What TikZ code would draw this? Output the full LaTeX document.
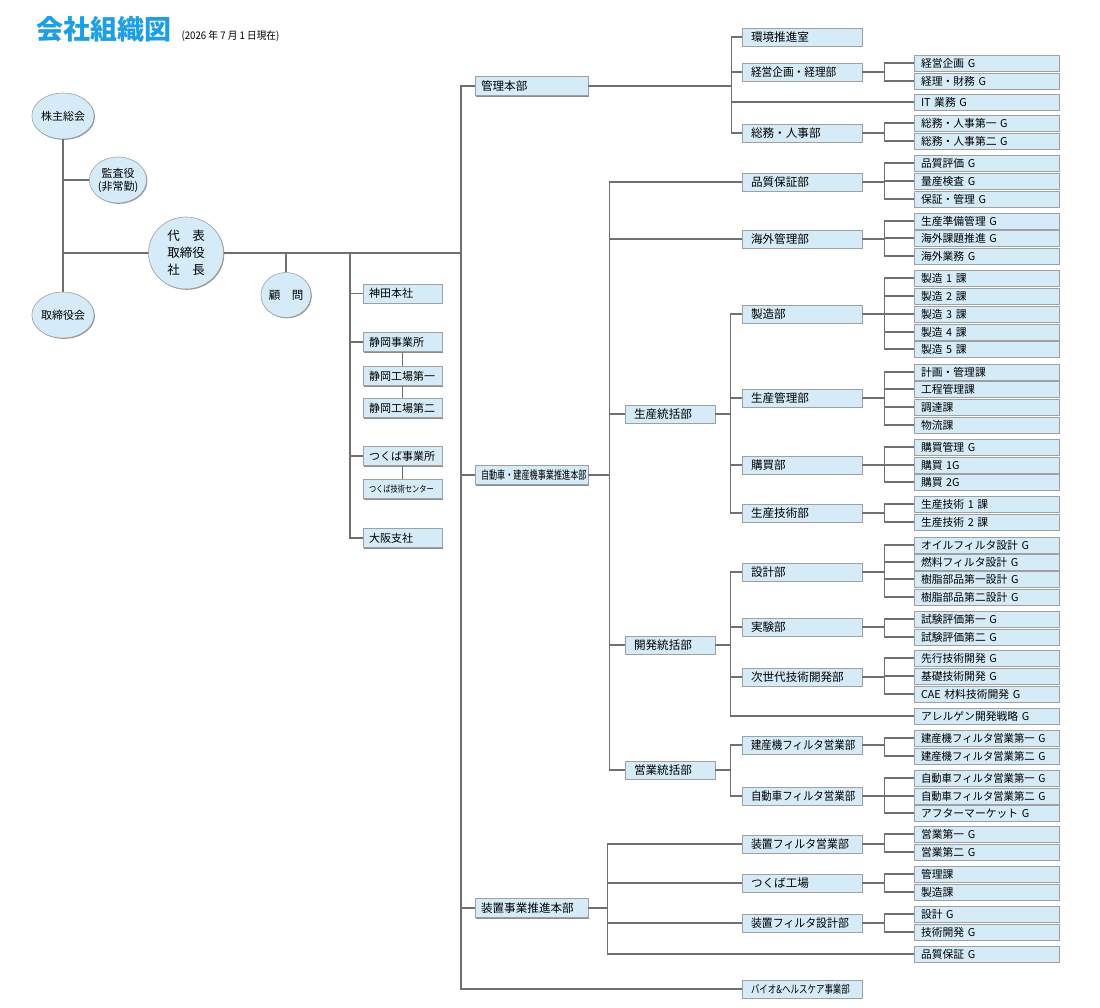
\documentclass[tikz,border=0pt]{standalone}
\usepackage{fontspec}
\setmainfont{Noto Sans CJK JP}
\usepackage{graphicx}
\definecolor{OrgFill}{HTML}{D5EBF8}
\definecolor{OrgEdge}{HTML}{A0A0A0}
\definecolor{OrgShade}{HTML}{8E8E8E}
\definecolor{OrgLink}{HTML}{707070}
\definecolor{OrgTitle}{HTML}{1E9EE3}
\usetikzlibrary{shapes.geometric,shadows,calc,positioning}
\newcommand{\narrow}[2]{\scalebox{#1}[1]{#2}}
\tikzset{
    % Boxes
    unit/.style={
        rectangle,
        draw=OrgEdge,
        line width=0.6pt,
        fill=OrgFill,
        text=black,
        align=left,
        inner ysep=0pt,
        drop shadow={shadow xshift=1.2pt, shadow yshift=-1.2pt, fill=OrgShade, opacity=1}
    },
    unit top/.style={
        unit,
        inner xsep=6pt,
        text width=101pt,
        minimum height=19pt,
        font=\fontsize{11.6}{12}\selectfont
    },
    unit mid/.style={
        unit,
        inner xsep=9pt,
        text width=102pt,
        minimum height=18pt,
        font=\fontsize{11.6}{12}\selectfont
    },
    unit head/.style={
        unit mid,
        text width=72pt
    },
    unit leaf/.style={
        unit,
        inner xsep=7pt,
        text width=131pt,
        minimum height=16pt,
        font=\fontsize{10.8}{11}\selectfont
    },
    unit site/.style={
        unit,
        inner xsep=6pt,
        text width=67pt,
        minimum height=19pt,
        font=\fontsize{11}{11}\selectfont
    },
    % Round boxes
    member/.style={
        ellipse,
        draw=OrgEdge,
        line width=0.6pt,
        fill=OrgFill,
        inner sep=0pt,
        minimum width=50pt,
        minimum height=46pt,
        align=center,
        font=\fontsize{11}{13}\selectfont,
        drop shadow={shadow xshift=0.8pt, shadow yshift=-0.8pt, fill=OrgShade, opacity=1}
    },
    link/.style={
        draw=OrgLink,
        line width=1.6pt
    }
}

\begin{document}
\begin{tikzpicture}[x=1pt, y=-1pt]
        \useasboundingbox (0,0) rectangle (1100,1007);

        % Title
        \node[anchor=west, inner sep=0pt, text=OrgTitle, font=\fontsize{27}{27}\selectfont\bfseries] (title) at (36,29) {会社組織図};
        \node[anchor=base west, inner sep=0pt, font=\fontsize{10.5}{11}\selectfont] (asof) at ($(title.base east)+(10,0)$) {\narrow{0.92}{(2026 年 7 月 1 日現在)}};

        % Top management
        \node[member] (gsm) at (63,116) {株主総会};
        \node[member] (auditor) at (118,180) {監査役\\(非常勤)};
        \node[member] (board) at (63,315) {取締役会};
        \node[member, minimum width=75pt, minimum height=72pt, font=\fontsize{12.5}{17}\selectfont] (ceo) at (186,253) {代　表\\取締役\\社　長};
        \node[member, minimum height=45pt, font=\fontsize{11.5}{12}\selectfont] (adviser) at (286,295) {顧　問};

        % Sites
        \node[unit site] (kanda) at (402.5,293.5) {神田本社};
        \node[unit site] (shizuoka) at (402.5,342) {静岡事業所};
        \node[unit site] (shizf1) at (402.5,376) {静岡工場第一};
        \node[unit site] (shizf2) at (402.5,408) {静岡工場第二};
        \node[unit site] (tsukuba) at (402.5,456) {つくば事業所};
        \node[unit site] (tsukubatc) at (402.5,489) {\narrow{0.8}{\fontsize{9}{9}\selectfont つくば技術センター}};
        \node[unit site] (osaka) at (402.5,538) {大阪支社};

        % Headquarters
        \node[unit top] (hq) at (531.5,86) {管理本部};
        \node[unit top] (auto) at (531.5,475) {\narrow{0.7}{自動車・建産機事業推進本部}};
        \node[unit top] (equip) at (531.5,908) {装置事業推進本部};
        \node[unit mid] (bio) at (802,989) {\narrow{0.77}{\fontsize{11}{11}\selectfont バイオ\&ヘルスケア事業部}};

        % Management
        \node[unit mid] (env) at (802,37) {環境推進室};
        \node[unit mid] (plan) at (802,72) {\narrow{0.92}{経営企画・経理部}};
        \node[unit leaf] (plan1) at (986.5,63) {経営企画 G};
        \node[unit leaf] (plan2) at (986.5,81) {経理・財務 G};
        \node[unit leaf] (itg) at (986.5,102) {IT 業務 G};
        \node[unit mid] (ga) at (802,133) {総務・人事部};
        \node[unit leaf] (ga1) at (986.5,123) {総務・人事第一 G};
        \node[unit leaf] (ga2) at (986.5,141) {総務・人事第二 G};

        % Automotive / construction machinery
        \node[unit mid] (qa) at (802,182) {品質保証部};
        \node[unit leaf] (qa1) at (986.5,163) {品質評価 G};
        \node[unit leaf] (qa2) at (986.5,181) {量産検査 G};
        \node[unit leaf] (qa3) at (986.5,199) {保証・管理 G};
        \node[unit mid] (ovs) at (802,239) {海外管理部};
        \node[unit leaf] (ovs1) at (986.5,221) {生産準備管理 G};
        \node[unit leaf] (ovs2) at (986.5,238) {海外課題推進 G};
        \node[unit leaf] (ovs3) at (986.5,256) {海外業務 G};

        \node[unit head] (prod) at (670,414) {生産統括部};
        \node[unit mid] (mfg) at (802,314) {製造部};
        \node[unit leaf] (mfg1) at (986.5,278) {製造 1 課};
        \node[unit leaf] (mfg2) at (986.5,296) {製造 2 課};
        \node[unit leaf] (mfg3) at (986.5,314) {製造 3 課};
        \node[unit leaf] (mfg4) at (986.5,332) {製造 4 課};
        \node[unit leaf] (mfg5) at (986.5,349) {製造 5 課};
        \node[unit mid] (pc) at (802,398) {生産管理部};
        \node[unit leaf] (pc1) at (986.5,372) {計画・管理課};
        \node[unit leaf] (pc2) at (986.5,389) {工程管理課};
        \node[unit leaf] (pc3) at (986.5,407) {調達課};
        \node[unit leaf] (pc4) at (986.5,425) {物流課};
        \node[unit mid] (pur) at (802,465) {購買部};
        \node[unit leaf] (pur1) at (986.5,447) {購買管理 G};
        \node[unit leaf] (pur2) at (986.5,465) {購買 1G};
        \node[unit leaf] (pur3) at (986.5,482) {購買 2G};
        \node[unit mid] (pe) at (802,513) {生産技術部};
        \node[unit leaf] (pe1) at (986.5,504) {生産技術 1 課};
        \node[unit leaf] (pe2) at (986.5,522) {生産技術 2 課};

        \node[unit head] (dev) at (670,645) {開発統括部};
        \node[unit mid] (des) at (802,572) {設計部};
        \node[unit leaf] (des1) at (986.5,545) {オイルフィルタ設計 G};
        \node[unit leaf] (des2) at (986.5,562) {燃料フィルタ設計 G};
        \node[unit leaf] (des3) at (986.5,579) {樹脂部品第一設計 G};
        \node[unit leaf] (des4) at (986.5,597) {樹脂部品第二設計 G};
        \node[unit mid] (exp) at (802,627) {実験部};
        \node[unit leaf] (exp1) at (986.5,619) {試験評価第一 G};
        \node[unit leaf] (exp2) at (986.5,637) {試験評価第二 G};
        \node[unit mid] (ntd) at (802,677) {次世代技術開発部};
        \node[unit leaf] (ntd1) at (986.5,658) {先行技術開発 G};
        \node[unit leaf] (ntd2) at (986.5,676) {基礎技術開発 G};
        \node[unit leaf] (ntd3) at (986.5,694) {CAE 材料技術開発 G};
        \node[unit leaf] (alg) at (986.5,716) {アレルゲン開発戦略 G};

        \node[unit head] (sales) at (670,770) {営業統括部};
        \node[unit mid] (cms) at (802,745) {\narrow{0.9}{建産機フィルタ営業部}};
        \node[unit leaf] (cms1) at (986.5,738) {\narrow{0.96}{建産機フィルタ営業第一~G}};
        \node[unit leaf] (cms2) at (986.5,756) {\narrow{0.96}{建産機フィルタ営業第二~G}};
        \node[unit mid] (ams) at (802,796) {\narrow{0.9}{自動車フィルタ営業部}};
        \node[unit leaf] (ams1) at (986.5,778) {\narrow{0.96}{自動車フィルタ営業第一~G}};
        \node[unit leaf] (ams2) at (986.5,796) {\narrow{0.96}{自動車フィルタ営業第二~G}};
        \node[unit leaf] (ams3) at (986.5,813) {アフターマーケット G};

        % Equipment
        \node[unit mid] (efs) at (802,844) {\narrow{0.94}{装置フィルタ営業部}};
        \node[unit leaf] (efs1) at (986.5,834) {営業第一 G};
        \node[unit leaf] (efs2) at (986.5,852) {営業第二 G};
        \node[unit mid] (tkf) at (802,883) {つくば工場};
        \node[unit leaf] (tkf1) at (986.5,874) {管理課};
        \node[unit leaf] (tkf2) at (986.5,892) {製造課};
        \node[unit mid] (efd) at (802,923) {\narrow{0.94}{装置フィルタ設計部}};
        \node[unit leaf] (efd1) at (986.5,914) {設計 G};
        \node[unit leaf] (efd2) at (986.5,932) {技術開発 G};
        \node[unit leaf] (eqa) at (986.5,954) {品質保証 G};

        % Connectors: top management
        \draw[link] (gsm) -- (board);
        \draw[link] (auditor.west) -- (auditor.west -| gsm.south);
        \draw[link] (ceo.west) -- (ceo.west -| gsm.south);
        \coordinate (sitej) at (350,253);
        \coordinate (trunk) at (461,253);
        \draw[link] (ceo.east) -- (trunk);
        \draw[link] (adviser) -- (adviser |- ceo);

        % Connectors: sites
        \draw[link] (kanda.west) -| (sitej);
        \draw[link] (shizuoka.west) -| (sitej);
        \draw[link] (tsukuba.west) -| (sitej);
        \draw[link] (osaka.west) -| (sitej);
        \draw[link] (shizuoka) -- (shizf1);
        \draw[link] (shizf1) -- (shizf2);
        \draw[link] (tsukuba) -- (tsukubatc);

        % Connectors: trunk
        \draw[link] (hq.west) -| (trunk);
        \draw[link] (auto.west) -| (trunk);
        \draw[link] (equip.west) -| (trunk);
        \draw[link] (bio.west) -| (trunk);

        % Connectors: management
        \draw[link] (hq.east) -- ++(143,0) coordinate (hqj);
        \draw[link] (env.west) -| (hqj);
        \draw[link] (plan.west) -| (hqj);
        \draw[link] (itg.west) -| (hqj);
        \draw[link] (ga.west) -| (hqj);
        \draw[link] (plan.east) -- ++(22,0) coordinate (planj);
        \draw[link] (plan1.west) -| (planj);
        \draw[link] (plan2.west) -| (planj);
        \draw[link] (ga.east) -- ++(22,0) coordinate (gaj);
        \draw[link] (ga1.west) -| (gaj);
        \draw[link] (ga2.west) -| (gaj);

        % Connectors: automotive / construction machinery
        \draw[link] (auto.east) -- ++(21,0) coordinate (autoj);
        \draw[link] (qa.west) -| (autoj);
        \draw[link] (ovs.west) -| (autoj);
        \draw[link] (prod.west) -| (autoj);
        \draw[link] (dev.west) -| (autoj);
        \draw[link] (sales.west) -| (autoj);
        \draw[link] (qa.east) -- ++(22,0) coordinate (qaj);
        \draw[link] (qa1.west) -| (qaj);
        \draw[link] (qa2.west) -| (qaj);
        \draw[link] (qa3.west) -| (qaj);
        \draw[link] (ovs.east) -- ++(22,0) coordinate (ovsj);
        \draw[link] (ovs1.west) -| (ovsj);
        \draw[link] (ovs2.west) -| (ovsj);
        \draw[link] (ovs3.west) -| (ovsj);

        \draw[link] (prod.east) -- ++(15,0) coordinate (prodj);
        \draw[link] (mfg.west) -| (prodj);
        \draw[link] (pc.west) -| (prodj);
        \draw[link] (pur.west) -| (prodj);
        \draw[link] (pe.west) -| (prodj);
        \draw[link] (mfg.east) -- ++(22,0) coordinate (mfgj);
        \draw[link] (mfg1.west) -| (mfgj);
        \draw[link] (mfg2.west) -| (mfgj);
        \draw[link] (mfg3.west) -| (mfgj);
        \draw[link] (mfg4.west) -| (mfgj);
        \draw[link] (mfg5.west) -| (mfgj);
        \draw[link] (pc.east) -- ++(22,0) coordinate (pcj);
        \draw[link] (pc1.west) -| (pcj);
        \draw[link] (pc2.west) -| (pcj);
        \draw[link] (pc3.west) -| (pcj);
        \draw[link] (pc4.west) -| (pcj);
        \draw[link] (pur.east) -- ++(22,0) coordinate (purj);
        \draw[link] (pur1.west) -| (purj);
        \draw[link] (pur2.west) -| (purj);
        \draw[link] (pur3.west) -| (purj);
        \draw[link] (pe.east) -- ++(22,0) coordinate (pej);
        \draw[link] (pe1.west) -| (pej);
        \draw[link] (pe2.west) -| (pej);

        \draw[link] (dev.east) -- ++(15,0) coordinate (devj);
        \draw[link] (des.west) -| (devj);
        \draw[link] (exp.west) -| (devj);
        \draw[link] (ntd.west) -| (devj);
        \draw[link] (alg.west) -| (devj);
        \draw[link] (des.east) -- ++(22,0) coordinate (desj);
        \draw[link] (des1.west) -| (desj);
        \draw[link] (des2.west) -| (desj);
        \draw[link] (des3.west) -| (desj);
        \draw[link] (des4.west) -| (desj);
        \draw[link] (exp.east) -- ++(22,0) coordinate (expj);
        \draw[link] (exp1.west) -| (expj);
        \draw[link] (exp2.west) -| (expj);
        \draw[link] (ntd.east) -- ++(22,0) coordinate (ntdj);
        \draw[link] (ntd1.west) -| (ntdj);
        \draw[link] (ntd2.west) -| (ntdj);
        \draw[link] (ntd3.west) -| (ntdj);

        \draw[link] (sales.east) -- ++(15,0) coordinate (salesj);
        \draw[link] (cms.west) -| (salesj);
        \draw[link] (ams.west) -| (salesj);
        \draw[link] (cms.east) -- ++(22,0) coordinate (cmsj);
        \draw[link] (cms1.west) -| (cmsj);
        \draw[link] (cms2.west) -| (cmsj);
        \draw[link] (ams.east) -- ++(22,0) coordinate (amsj);
        \draw[link] (ams1.west) -| (amsj);
        \draw[link] (ams2.west) -| (amsj);
        \draw[link] (ams3.west) -| (amsj);

        % Connectors: equipment
        \draw[link] (equip.east) -- ++(19,0) coordinate (equipj);
        \draw[link] (efs.west) -| (equipj);
        \draw[link] (tkf.west) -| (equipj);
        \draw[link] (efd.west) -| (equipj);
        \draw[link] (eqa.west) -| (equipj);
        \draw[link] (efs.east) -- ++(22,0) coordinate (efsj);
        \draw[link] (efs1.west) -| (efsj);
        \draw[link] (efs2.west) -| (efsj);
        \draw[link] (tkf.east) -- ++(22,0) coordinate (tkfj);
        \draw[link] (tkf1.west) -| (tkfj);
        \draw[link] (tkf2.west) -| (tkfj);
        \draw[link] (efd.east) -- ++(22,0) coordinate (efdj);
        \draw[link] (efd1.west) -| (efdj);
        \draw[link] (efd2.west) -| (efdj);
    \end{tikzpicture}
\end{document}
